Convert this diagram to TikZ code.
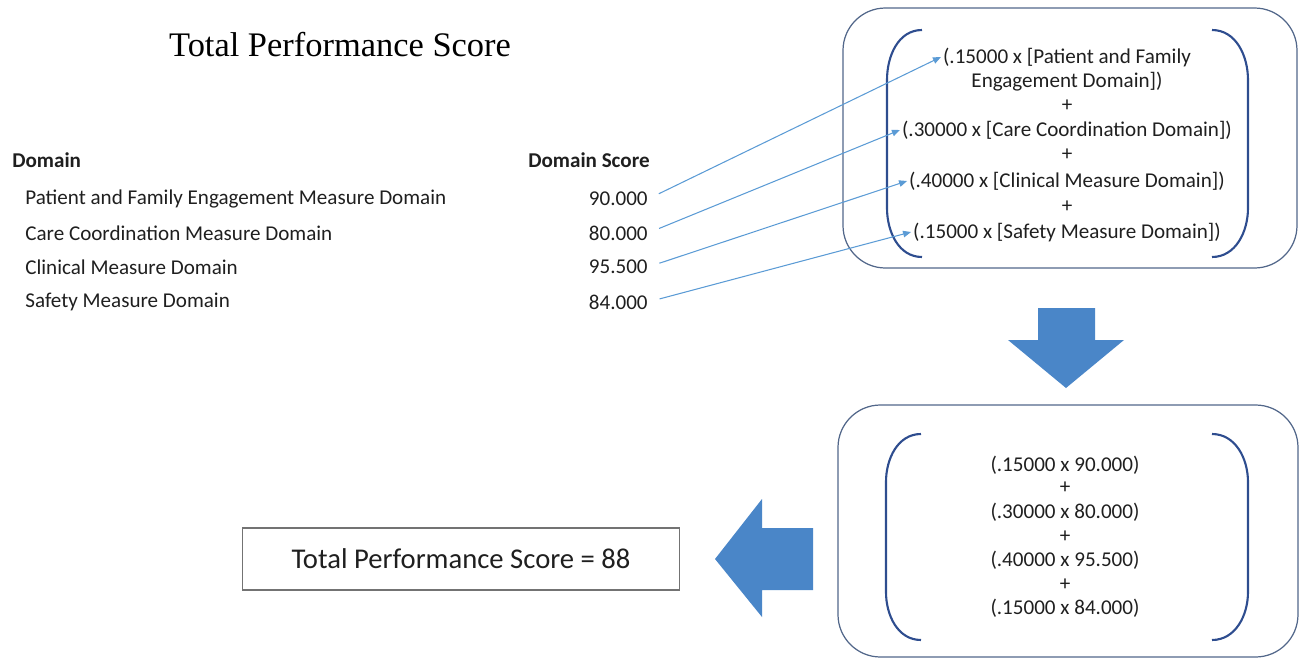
\documentclass[tikz,border=0pt]{standalone}
\usepackage{fontspec}
\setmainfont{Carlito}
\newfontfamily\titlefont{Liberation Serif}
\usetikzlibrary{arrows.meta}
\definecolor{linkblue}{HTML}{5B9BD5}
\definecolor{fillblue}{HTML}{4A86C8}
\definecolor{navy}{HTML}{2E4D8F}
\definecolor{panelline}{HTML}{52678A}
\begin{document}
\begin{tikzpicture}[x=0.02cm,y=-0.02cm,
    txt/.style={inner sep=0pt,text=black!88,font=\fontsize{12}{14}\selectfont},
    head/.style={txt,font=\fontsize{12}{14}\selectfont\bfseries},
    line/.style={txt,inner sep=1pt},
    link/.style={linkblue,line width=0.6pt,shorten <=2.4mm,-{Triangle[length=1.6mm,width=1.3mm]}},
    panel/.style={draw=panelline,line width=0.7pt,rounded corners=0.85cm},
    paren/.style={navy,line width=1.2pt},
    bigarrow/.style={fill=fillblue}]
    \useasboundingbox (0,0) rectangle (1303,660);

    \node[font=\titlefont\fontsize{19.6}{22}\selectfont] (TT) at (340,45) {Total Performance Score};

    \node[head,anchor=west] (HA) at (12,160) {Domain};
    \node[head,anchor=east] (HB) at (650,160) {Domain Score};

    \node[txt,anchor=west] (DA) at (25,199) {Patient and Family Engagement Measure Domain};
    \node[txt,anchor=west] (DB) at (25,233) {Care Coordination Measure Domain};
    \node[txt,anchor=west] (DC) at (25,267) {Clinical Measure Domain};
    \node[txt,anchor=west] (DD) at (25,302) {Safety Measure Domain};

    \node[txt,anchor=east] (SA) at (648,199) {90.000};
    \node[txt,anchor=east] (SB) at (648,233) {80.000};
    \node[txt,anchor=east] (SC) at (648,267) {95.500};
    \node[txt,anchor=east] (SD) at (648,302) {84.000};

    % formula box
    \draw[panel] (843,8) rectangle (1297,268);
    \draw[paren] (922,30) to[out=180,in=90] (887,80) -- (887,208) to[out=-90,in=180] (922,257);
    \draw[paren] (1212,30) to[out=0,in=90] (1248,80) -- (1248,208) to[out=-90,in=0] (1212,257);
    \node[line] (FA) at (1067,57) {(.15000 x [Patient and Family};
    \node[line] (FB) at (1067,82) {Engagement Domain])};
    \node[line] (PA) at (1067,106) {+};
    \node[line] (FC) at (1067,130) {(.30000 x [Care Coordination Domain])};
    \node[line] (PB) at (1067,155) {+};
    \node[line] (FD) at (1067,181) {(.40000 x [Clinical Measure Domain])};
    \node[line] (PC) at (1067,207) {+};
    \node[line] (FE) at (1067,232) {(.15000 x [Safety Measure Domain])};

    \draw[link] (SA.east) -- (FA.west);
    \draw[link] (SB.east) -- (FC.west);
    \draw[link] (SC.east) -- (FD.west);
    \draw[link] (SD.east) -- (FE.west);

    % down arrow
    \fill[bigarrow] (1038,308) -- (1095,308) -- (1095,340) -- (1124,340) -- (1066,388)
        -- (1008,340) -- (1038,340) -- cycle;

    % values box
    \draw[panel] (838,405) rectangle (1298,657);
    \draw[paren] (921,434) to[out=180,in=90] (886,482) -- (886,592) to[out=-90,in=180] (921,640);
    \draw[paren] (1212,434) to[out=0,in=90] (1248,482) -- (1248,592) to[out=-90,in=0] (1212,640);
    \node[line] (BA) at (1065,465) {(.15000 x 90.000)};
    \node[line] (BB) at (1065,488) {+};
    \node[line] (BC) at (1065,512) {(.30000 x 80.000)};
    \node[line] (BD) at (1065,537) {+};
    \node[line] (BE) at (1065,560) {(.40000 x 95.500)};
    \node[line] (BF) at (1065,585) {+};
    \node[line] (BG) at (1065,608) {(.15000 x 84.000)};

    % left arrow
    \fill[bigarrow] (813,528) -- (762,528) -- (762,499) -- (715,559) -- (762,617)
        -- (762,590) -- (813,590) -- cycle;

    \node[draw=black!55,line width=0.6pt,minimum width=8.76cm,minimum height=1.24cm,
        text=black!88,font=\fontsize{16.3}{19}\selectfont] (RS) at (461,559) {Total Performance Score = 88};
\end{tikzpicture}
\end{document}
